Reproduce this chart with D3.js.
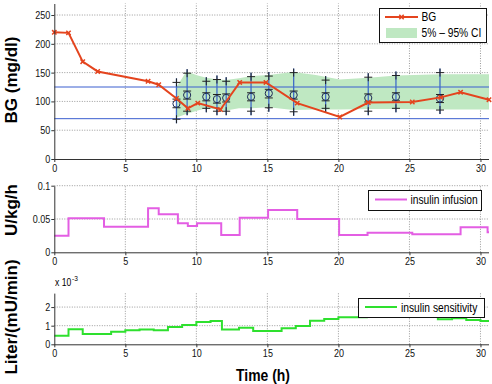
<!DOCTYPE html>
<html>
<head>
<meta charset="utf-8">
<script src="https://cdn.jsdelivr.net/npm/d3@7"></script>
<style>
	body { margin: 0; background: #fff; }
	svg { display: block; font-family: "Liberation Sans", Arial, Helvetica, sans-serif; }
	.tick line { stroke: #333; }
	.domain { stroke: #333; }
</style>
</head>
<body>
<div id="plot"></div>
<script>
// ---- data ----
const bgTime  = [0, 1, 2, 3.05, 6.6, 7.35, 8.6, 9.4, 10.1, 11.7, 13.05, 14.9, 17.1, 20.1, 22.1, 25.2, 27.2, 28.6, 30.6];
const bgValue = [220, 219, 169, 152, 135, 129, 105, 88, 97, 86, 133, 133, 97, 73, 98, 99, 107, 116, 103];

// 5% - 95% confidence band
const ciTime = [8.6, 9.3, 10.1, 10.7, 11.5, 12.1, 13.0, 13.9, 15.1, 16.8, 18.4, 20.1, 22.1, 24.1, 27.2, 30.6];
const ciLow  = [72, 78, 84, 88, 86, 84, 88, 88, 90, 85, 86, 86, 87, 87, 86, 86];
const ciHigh = [125, 152, 145, 141, 138, 137, 140, 144, 146, 151, 146, 138, 141, 145, 147, 147];

// measured BG distribution (boxes with whiskers)
const obsTime = [8.6, 9.35, 10.7, 11.45, 12.1, 13.85, 15.1, 16.85, 19.1, 22.1, 24.05, 27.15];
const obsP95  = [133, 149, 135, 138, 135, 143, 144, 150, 137, 142, 145, 150];
const obsQ75  = [104, 118, 115, 112, 113, 115, 121, 118, 115, 113, 115, 112];
const obsMed  = [96, 111, 108, 104, 106, 108, 114, 111, 108, 106, 108, 105];
const obsQ25  = [89, 104, 101, 97, 99, 101, 106, 104, 101, 99, 101, 98];
const obsP5   = [69, 83, 88, 83, 83, 83, 89, 82, 88, 83, 88, 85];

// target range (mg/dl)
const targetBand = [70, 125];

// insulin infusion (U/kg/h), step changes
const infTime  = [0, 1, 3.5, 6.6, 7.35, 8.7, 9.4, 10.05, 11.75, 13.05, 15.05, 17.1, 20.05, 22.05, 25.2, 28.6, 30.5, 30.6];
const infValue = [0.025, 0.051, 0.0385, 0.066, 0.057, 0.0435, 0.0395, 0.0435, 0.026, 0.052, 0.0635, 0.05, 0.026, 0.0295, 0.027, 0.0375, 0.03, 0.03];

// insulin sensitivity (x 10^-3 Liter/(mU/min)), step changes
const sensTime  = [0, 1, 2, 4, 5, 6, 7, 8, 9, 10, 11, 11.8, 13, 14, 16, 17, 18, 19, 20, 22, 24, 26, 27, 28, 29, 30, 30.6];
const sensValue = [0.46, 0.81, 0.55, 0.68, 0.75, 0.8, 0.76, 0.93, 1.03, 1.2, 1.25, 0.8, 0.89, 0.71, 0.86, 0.98, 1.27, 1.36, 1.45, 1.5, 1.52, 1.48, 1.34, 1.4, 1.3, 1.25, 1.25];

const xTicks = [0, 5, 10, 15, 20, 25, 30];
const bgTicks = [0, 50, 100, 150, 200, 250];
const infTicks = [0, 0.05, 0.1];
const sensTicks = [0, 1, 2];

// ---- layout ----
const W = 492, H = 384;
const SQ = 0.82;  // the original text is horizontally narrow
const gridColor = "#999";

const svg = d3.select("#plot").append("svg")
	.attr("width", W)
	.attr("height", H);

const x = d3.scaleLinear().domain([0, 30.6]).range([54.3, 489]);
const yBG = d3.scaleLinear().domain([0, 270]).range([159, 3.5]);
const yInf = d3.scaleLinear().domain([0, 0.1]).range([252.3, 185.7]);
const ySens = d3.scaleLinear().domain([0, 2.75]).range([344.3, 293.1]);

function text(g, px, py, str, size, anchor, weight) {
	return g.append("text")
		.attr("transform", "translate(" + px + "," + py + ") scale(" + SQ + ",1)")
		.attr("text-anchor", anchor || "start")
		.style("font-size", size + "px")
		.style("font-weight", weight || "normal")
		.text(str);
}

function ylabel(px, py, str) {
	svg.append("text")
		.attr("transform", "translate(" + px + "," + py + ") rotate(-90)")
		.attr("text-anchor", "middle")
		.style("font-size", "17px")
		.style("font-weight", "bold")
		.text(str);
}

function panel(y, yTicks) {
	const g = svg.append("g");
	const y0 = y.range()[0], y1 = y.range()[1];
	// grid
	g.append("g").selectAll("line")
		.data(xTicks.filter(d => d > 0))
		.join("line")
		.attr("x1", d => x(d)).attr("x2", d => x(d))
		.attr("y1", y0).attr("y2", y1)
		.attr("stroke", gridColor).attr("stroke-dasharray", "1,1.5");
	g.append("g").selectAll("line")
		.data(yTicks.filter(d => d > 0))
		.join("line")
		.attr("x1", x.range()[0]).attr("x2", x.range()[1])
		.attr("y1", d => y(d)).attr("y2", d => y(d))
		.attr("stroke", gridColor).attr("stroke-dasharray", "1,1.5");
	return g;
}

function axes(y, yTicks, fmt) {
	const y0 = y.range()[0];
	const xa = svg.append("g")
		.attr("transform", "translate(0," + y0 + ")")
		.call(d3.axisBottom(x).tickValues(xTicks).tickSizeInner(3).tickSizeOuter(0).tickPadding(2));
	const ya = svg.append("g")
		.attr("transform", "translate(" + x.range()[0] + ",0)")
		.call(d3.axisLeft(y).tickValues(yTicks).tickFormat(fmt).tickSizeInner(3).tickSizeOuter(0).tickPadding(2));
	[xa, ya].forEach(a => {
		a.selectAll("text")
			.style("font-size", "11px")
			.style("font-family", "'Liberation Sans', Arial, sans-serif")
			.attr("fill", "#111");
		a.selectAll(".tick text").attr("transform", "scale(" + SQ + ",1)");
	});
	xa.select(".domain").attr("d", "M" + x.range()[0] + ",0.5H" + x.range()[1]);
}

// ---- top panel: BG ----
panel(yBG, bgTicks);

svg.append("path")
	.attr("d", d3.area()
		.x((d, i) => x(ciTime[i]))
		.y0((d, i) => yBG(ciLow[i]))
		.y1((d, i) => yBG(ciHigh[i]))(ciTime))
	.attr("fill", "#bfe8c2");

svg.append("g").selectAll("line")
	.data(targetBand)
	.join("line")
	.attr("x1", x(0)).attr("x2", x(30.6))
	.attr("y1", d => yBG(d)).attr("y2", d => yBG(d))
	.attr("stroke", "#3b5fcf").attr("stroke-width", 1);

const obs = svg.append("g").selectAll("g")
	.data(obsTime)
	.join("g")
	.attr("transform", d => "translate(" + x(d) + ",0)");

obs.append("line")
	.attr("y1", (d, i) => yBG(obsP5[i]) + 4)
	.attr("y2", (d, i) => yBG(obsP95[i]) - 4)
	.attr("stroke", "#3f6cc8").attr("stroke-width", 1.3);
[obsP5, obsP95].forEach(arr => {
	obs.append("path")
		.attr("d", (d, i) => "M-4," + yBG(arr[i]) + "H4M0," + (yBG(arr[i]) - 4) + "V" + (yBG(arr[i]) + 4))
		.attr("stroke", "#222").attr("stroke-width", 1);
});
[obsQ25, obsQ75].forEach(arr => {
	obs.append("path")
		.attr("d", (d, i) => "M-4," + yBG(arr[i]) + "H4")
		.attr("stroke", "#222").attr("stroke-width", 1);
});
obs.append("circle")
	.attr("cy", (d, i) => yBG(obsMed[i]))
	.attr("r", 3.6)
	.attr("fill", "none")
	.attr("stroke", "#1d2a55").attr("stroke-width", 1);

const bgColor = "#e4441e";
svg.append("path")
	.attr("d", d3.line()
		.x((d, i) => x(bgTime[i]))
		.y((d, i) => yBG(bgValue[i]))(bgTime))
	.attr("fill", "none")
	.attr("stroke", bgColor).attr("stroke-width", 2);

const xMark = "M-2.2,-2.2L2.2,2.2M-2.2,2.2L2.2,-2.2";
svg.append("g").selectAll("path")
	.data(bgTime)
	.join("path")
	.attr("transform", (d, i) => "translate(" + x(d) + "," + yBG(bgValue[i]) + ")")
	.attr("d", xMark)
	.attr("stroke", bgColor).attr("stroke-width", 1.5);

axes(yBG, bgTicks, d => d);

// legend
const lg1 = svg.append("g");
lg1.append("rect").attr("x", 379.5).attr("y", 8.5).attr("width", 107).attr("height", 34)
	.attr("fill", "#fff").attr("stroke", "#111");
lg1.append("line").attr("x1", 385).attr("x2", 418).attr("y1", 17).attr("y2", 17)
	.attr("stroke", bgColor).attr("stroke-width", 2);
lg1.append("path").attr("transform", "translate(401.5,17)").attr("d", xMark)
	.attr("stroke", bgColor).attr("stroke-width", 1.5);
lg1.append("rect").attr("x", 386).attr("y", 28).attr("width", 31).attr("height", 10)
	.attr("fill", "#bfe8c2");
text(lg1, 421.5, 21, "BG", 12.5);
text(lg1, 421.5, 37, "5% \u2013 95% CI", 12.5);

ylabel(16.5, 80, "BG (mg/dl)");

// ---- middle panel: insulin infusion ----
panel(yInf, infTicks);

const infColor = "#e35ee3";
svg.append("path")
	.attr("d", d3.line().curve(d3.curveStepAfter)
		.x((d, i) => x(infTime[i]))
		.y((d, i) => yInf(infValue[i]))(infTime))
	.attr("fill", "none")
	.attr("stroke", infColor).attr("stroke-width", 2);

axes(yInf, infTicks, d => String(d));

const lg2 = svg.append("g");
lg2.append("rect").attr("x", 368.5).attr("y", 190.5).attr("width", 113).attr("height", 20)
	.attr("fill", "#fff").attr("stroke", "#111");
lg2.append("line").attr("x1", 375).attr("x2", 407).attr("y1", 199.5).attr("y2", 199.5)
	.attr("stroke", infColor).attr("stroke-width", 2);
text(lg2, 410.5, 204, "insulin infusion", 12.5);

ylabel(16.5, 210, "U/kg/h");

// ---- bottom panel: insulin sensitivity ----
panel(ySens, sensTicks);

const sensColor = "#2ee02e";
svg.append("path")
	.attr("d", d3.line().curve(d3.curveStepAfter)
		.x((d, i) => x(sensTime[i]))
		.y((d, i) => ySens(sensValue[i]))(sensTime))
	.attr("fill", "none")
	.attr("stroke", sensColor).attr("stroke-width", 2);

axes(ySens, sensTicks, d => d);

text(svg, 55, 286, "x 10", 10.5);
text(svg, 72, 281, "-3", 8);

const lg3 = svg.append("g");
lg3.append("rect").attr("x", 358.5).attr("y", 298.5).attr("width", 126).attr("height", 19)
	.attr("fill", "#fff").attr("stroke", "#111");
lg3.append("line").attr("x1", 365).attr("x2", 397).attr("y1", 307).attr("y2", 307)
	.attr("stroke", sensColor).attr("stroke-width", 2);
text(lg3, 401, 311.5, "insulin sensitivity", 12.5);

ylabel(16.5, 317, "Liter/(mU/min)");

// x label
text(svg, 263, 381, "Time (h)", 17, "middle", "bold");
</script>
</body>
</html>
